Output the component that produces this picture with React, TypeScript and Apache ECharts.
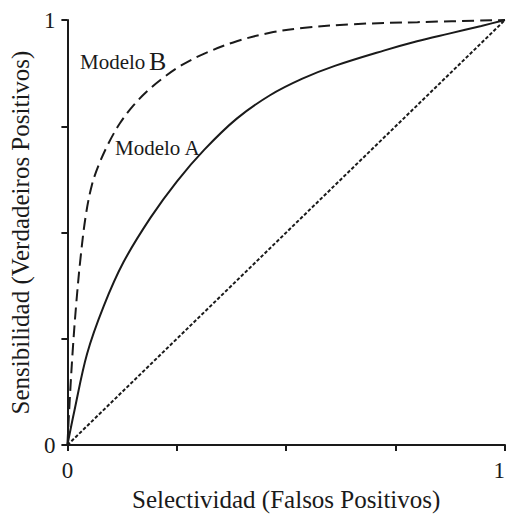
import React, { useEffect, useRef } from "react";
import * as echarts from "echarts";

const labelledTicks = [0, 1];

const modelAX = [0, 0.016, 0.045, 0.083, 0.128, 0.19, 0.25, 0.313, 0.387, 0.463, 0.537, 0.611, 0.723, 0.799, 0.872, 0.946, 1];
const modelAY = [0, 0.081, 0.215, 0.327, 0.43, 0.535, 0.62, 0.695, 0.768, 0.823, 0.862, 0.892, 0.928, 0.95, 0.968, 0.986, 1];

const modelBX = [0, 0.005, 0.012, 0.02, 0.03, 0.042, 0.056, 0.072, 0.094, 0.12, 0.15, 0.186, 0.224, 0.26, 0.313, 0.387, 0.463, 0.537, 0.65, 0.8, 1];
const modelBY = [0, 0.1, 0.22, 0.33, 0.44, 0.54, 0.612, 0.66, 0.71, 0.757, 0.798, 0.836, 0.868, 0.893, 0.921, 0.95, 0.97, 0.981, 0.99, 0.995, 1];

const randomX = [0, 1];
const randomY = [0, 1];

const xName = "Selectividad (Falsos Positivos)";
const yName = "Sensibilidad (Verdadeiros Positivos)";

const zip = (xs: number[], ys: number[]) => xs.map((x, i) => [x, ys[i]]);

const FONT = "'Liberation Serif', 'Times New Roman', serif";
const INK = "#1a1a1a";

export default function App() {
  const ref = useRef<HTMLDivElement>(null);
  useEffect(() => {
    document.body.style.margin = "0";
    document.body.style.overflow = "hidden";
    if (!ref.current) return;
    const chart = echarts.init(ref.current, undefined, { renderer: "svg" });
    const axisCommon = {
      type: "value" as const,
      min: 0,
      max: 1,
      interval: 0.25,
      splitLine: { show: false },
      axisLine: { show: true, lineStyle: { color: INK, width: 2 } },
      axisTick: { show: true, inside: false, length: 6, lineStyle: { color: INK, width: 2 } },
      nameLocation: "middle" as const,
      nameTextStyle: { fontFamily: FONT, fontSize: 25, color: INK },
    };
    const labelStyle = {
      margin: 12,
      fontFamily: FONT,
      fontSize: 23,
      color: INK,
      formatter: (v: number) => (labelledTicks.includes(v) ? String(v) : ""),
    };
    chart.setOption({
      animation: false,
      backgroundColor: "#ffffff",
      grid: { left: 60, right: 1, top: 20, bottom: 51, containLabel: false },
      xAxis: {
        ...axisCommon,
        name: xName,
        nameGap: 28,
        axisLabel: { ...labelStyle, margin: 14, alignMaxLabel: "right" },
      },
      yAxis: {
        ...axisCommon,
        name: yName,
        nameGap: 30,
        axisLabel: { ...labelStyle },
      },
      series: [
        {
          type: "line",
          data: zip(randomX, randomY),
          symbol: "none",
          lineStyle: { color: INK, width: 2, type: [3.5, 2] },
        },
        {
          type: "line",
          data: zip(modelAX, modelAY),
          symbol: "none",
          smooth: 0.35,
          lineStyle: { color: INK, width: 2, type: "solid" },
        },
        {
          type: "line",
          data: zip(modelBX, modelBY),
          symbol: "none",
          smooth: 0.35,
          lineStyle: { color: INK, width: 2, type: [12, 6] },
        },
      ],
      graphic: [
        {
          type: "text",
          x: 80,
          y: 62,
          style: { text: "Modelo", fontFamily: FONT, fontSize: 21, fill: INK, verticalAlign: "middle" },
        },
        {
          type: "text",
          x: 149,
          y: 61,
          style: { text: "B", fontFamily: FONT, fontSize: 26, fill: INK, verticalAlign: "middle" },
        },
        {
          type: "text",
          x: 115,
          y: 148,
          style: { text: "Modelo A", fontFamily: FONT, fontSize: 21, fill: INK, verticalAlign: "middle" },
        },
      ],
    });
    return () => chart.dispose();
  }, []);
  return <div ref={ref} style={{ width: 508, height: 517 }} />;
}
